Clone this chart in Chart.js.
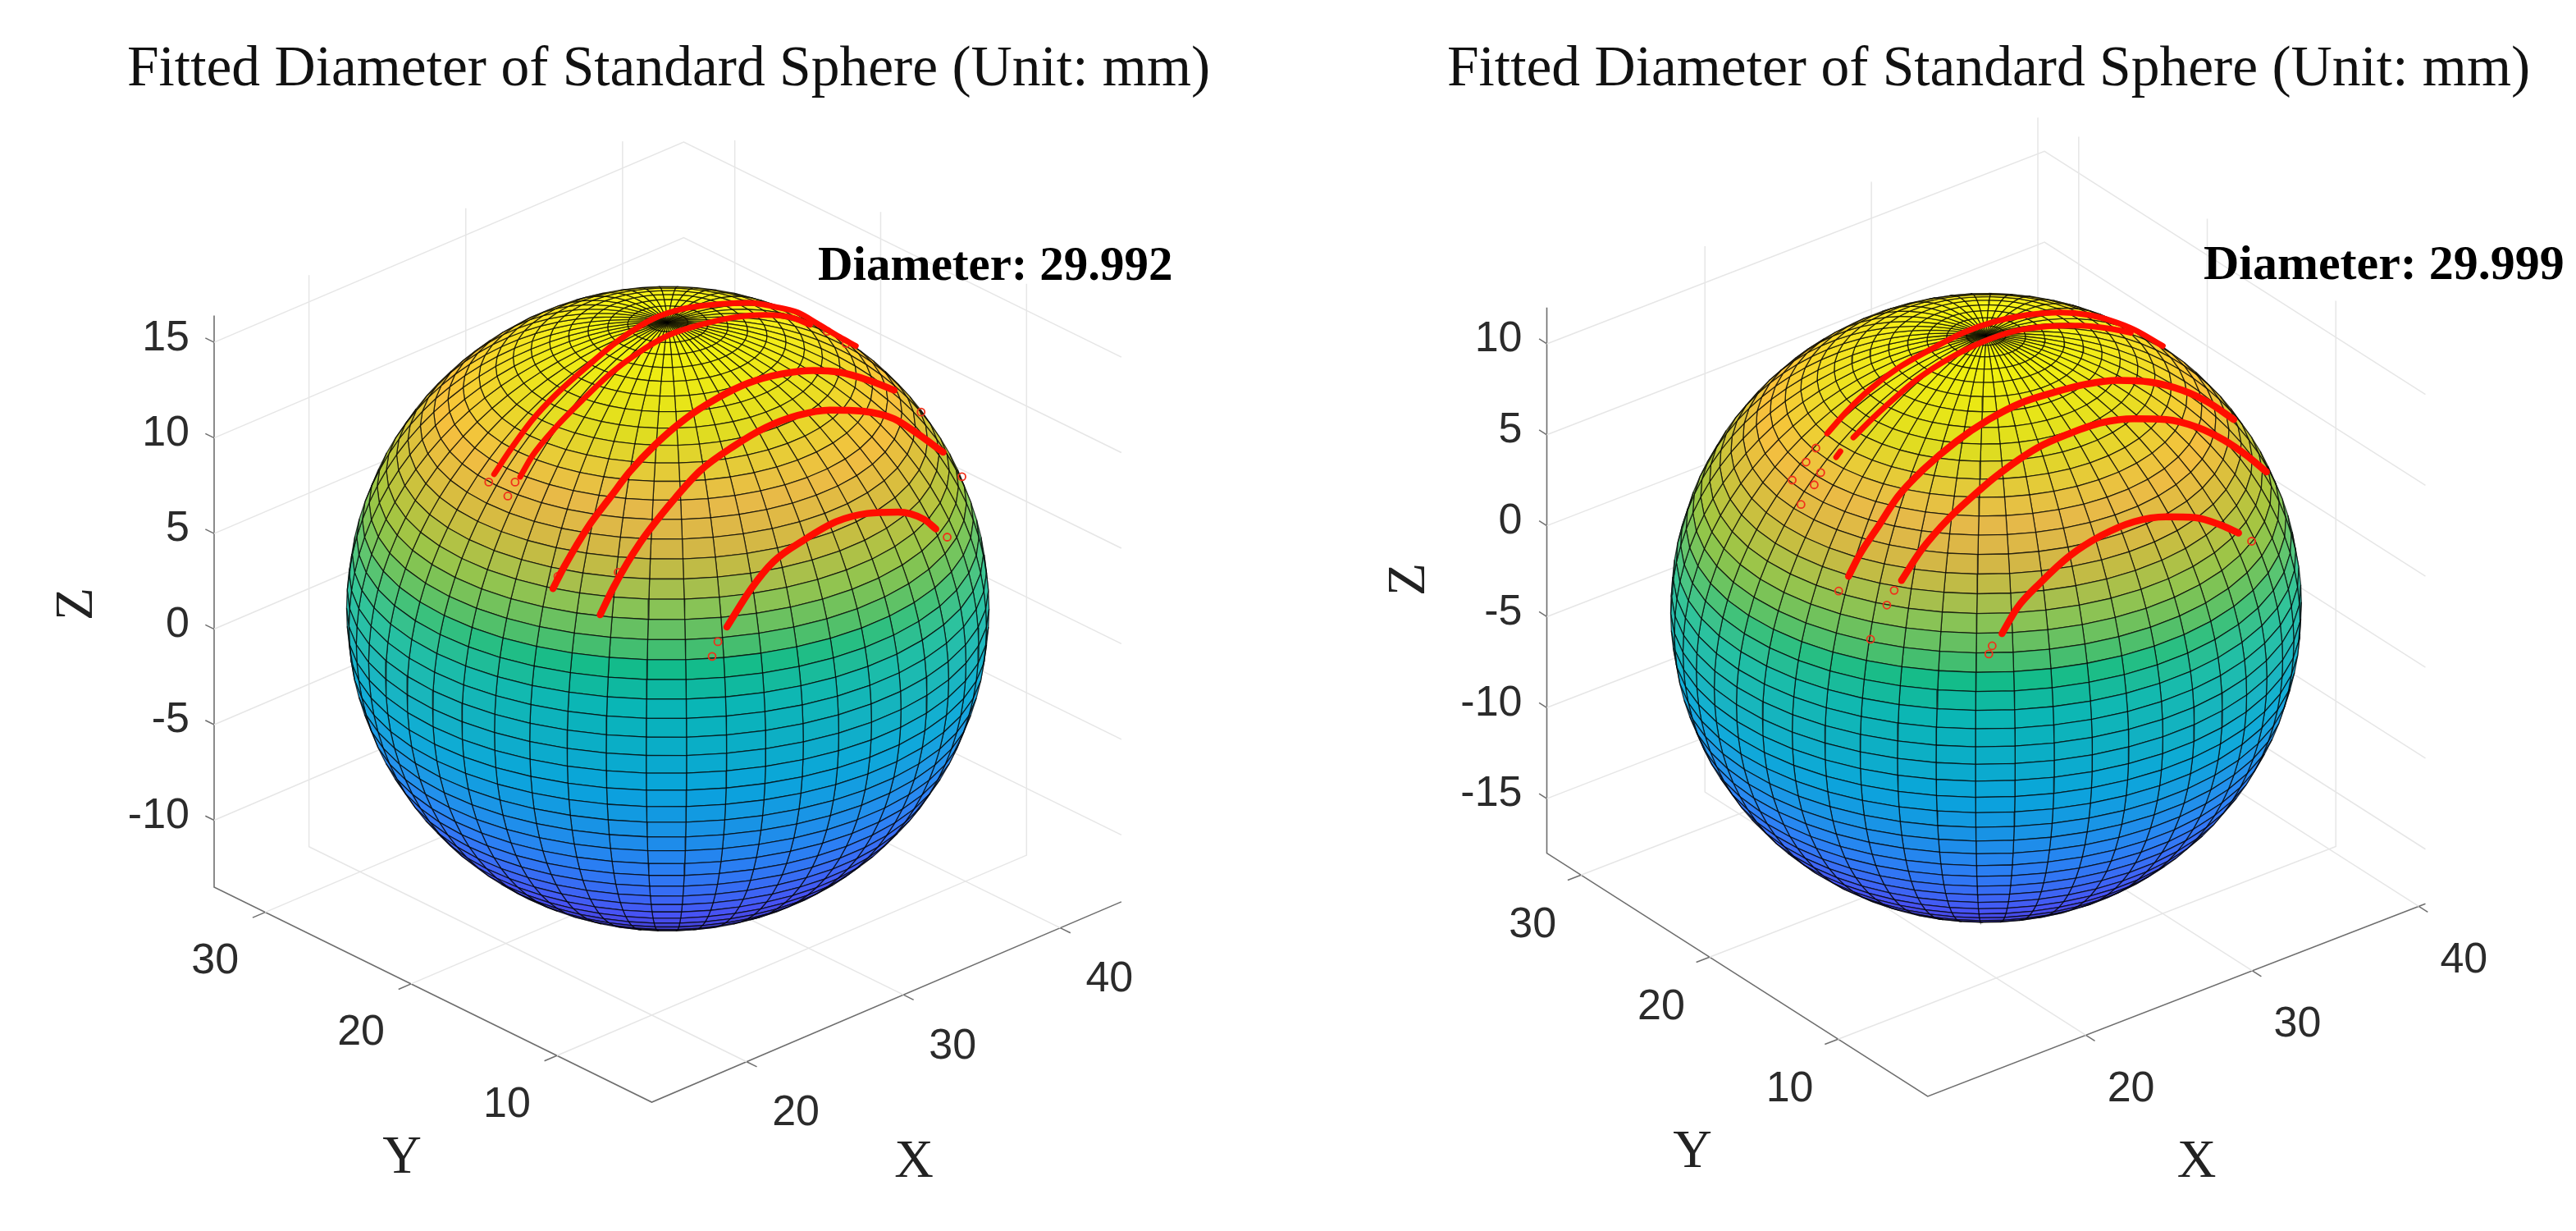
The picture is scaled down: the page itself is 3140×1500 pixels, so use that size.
<!DOCTYPE html>
<html>
<head>
<meta charset="utf-8">
<title>Fitted Diameter of Standard Sphere</title>
<script src="https://cdn.jsdelivr.net/npm/chart.js@4/dist/chart.umd.js"></script>
<style>
  html, body { margin: 0; background: #fff; overflow: hidden; }
  canvas { position: absolute; top: 0; }
  #left { left: 0; }
  #right { left: 1570px; }
</style>
</head>
<body>
<canvas id="left" width="1570" height="1500"></canvas>
<canvas id="right" width="1570" height="1500"></canvas>
<script>
var titleText = 'Fitted Diameter of Standard Sphere (Unit: mm)';
var serif = '"Liberation Serif", serif';
var sans = '"Liberation Sans", Arial, sans-serif';

// axis ticks
var leftXTicks = [20, 30, 40];
var leftYTicks = [10, 20, 30];
var leftZTicks = [-10, -5, 0, 5, 10, 15];
var rightXTicks = [20, 30, 40];
var rightYTicks = [10, 20, 30];
var rightZTicks = [-15, -10, -5, 0, 5, 10];

var leftLimits = { x: [13.95, 43.9], y: [3.5, 33.5], z: [-13.5, 16.4] };
var rightLimits = { x: [10.5, 40.4], y: [3.03, 32.66], z: [-18, 12] };
var leftCentre = [28.93, 18.5, 1.45];
var rightCentre = [25.45, 17.85, -3.13];
var sphereRadius = 15;

// measured scan arcs: h = mm along the screen from the Z axis, v = height read on the Z axis
var leftArcH = [
    [13.09, 13.85, 14.89, 15.95, 17.48, 18.97, 20.50, 21.98, 23.51, 25.00, 26.22, 27.29, 28.17, 29.24, 30.00],
    [14.31, 14.89, 15.95, 17.18, 18.51, 19.73, 21.22, 22.75, 24.27, 25.76, 26.98, 27.86],
    [15.84, 16.37, 17.52, 18.55, 19.43, 20.65, 21.98, 23.51, 25.00, 26.53, 28.02, 29.24, 30.61, 31.79],
    [18.05, 18.70, 19.89, 21.49, 22.75, 24.27, 25.76, 27.29, 28.78, 30.31, 31.79, 32.86, 34.08],
    [23.97, 25.11, 26.15, 27.60, 29.08, 30.53, 31.98, 33.17, 33.74]
];
var leftArcV = [
    [8.10, 9.38, 10.96, 12.24, 13.78, 15.15, 16.22, 16.77, 16.99, 17.07, 16.86, 16.56, 16.00, 15.28, 14.81],
    [7.97, 9.08, 10.53, 11.94, 13.35, 14.38, 15.36, 15.92, 16.30, 16.43, 16.30, 15.92],
    [2.12, 3.27, 5.41, 6.94, 8.23, 9.68, 10.96, 12.07, 12.88, 13.35, 13.53, 13.44, 13.01, 12.50],
    [0.75, 2.24, 4.47, 6.77, 8.31, 9.55, 10.53, 11.18, 11.46, 11.40, 11.00, 10.24, 9.25],
    [0.11, 2.12, 3.53, 4.68, 5.62, 6.05, 6.12, 5.75, 5.24]
];
var leftStrayH = [12.84, 13.73, 14.07, 33.05, 34.27, 23.28, 23.55, 16.07, 18.89, 28.66, 29.54, 34.96];
var leftStrayV = [7.69, 6.96, 7.69, 11.35, 4.81, -1.43, -0.66, 2.76, 2.97, 15.58, 14.94, 7.97];

var rightArcH = [
    [13.39, 14.33, 15.38, 16.78, 18.34, 19.86, 21.42, 22.94, 24.50, 25.87, 26.96, 28.05, 29.42],
    [14.64, 15.54, 16.47, 17.72, 19.24, 20.80, 22.32, 23.88, 25.40, 26.96, 27.89],
    [13.82, 14.02],
    [14.41, 14.95, 15.85, 16.78, 18.03, 19.55, 21.11, 22.63, 24.19, 25.71, 27.27, 28.79, 30.35, 31.60, 32.81],
    [16.94, 17.88, 19.24, 20.64, 21.42, 23.41, 24.97, 26.49, 28.05, 29.57, 31.13, 32.34, 33.43, 34.37],
    [21.74, 22.48, 23.57, 24.97, 26.49, 28.05, 29.57, 30.97, 32.18, 33.04]
];
var rightArcV = [
    [5.07, 6.29, 7.45, 8.67, 9.70, 10.60, 11.23, 11.59, 11.72, 11.59, 11.27, 10.78, 9.88],
    [4.85, 5.88, 6.87, 8.08, 9.21, 10.10, 10.69, 10.96, 11.00, 10.82, 10.60],
    [3.77, 4.09],
    [-2.78, -1.57, 0.00, 1.62, 3.14, 4.63, 5.84, 6.74, 7.32, 7.77, 7.99, 7.90, 7.45, 6.78, 5.84],
    [-3.01, -1.35, 0.45, 1.93, 2.69, 4.27, 5.07, 5.66, 5.88, 5.84, 5.39, 4.71, 3.86, 2.96],
    [-5.93, -4.49, -3.14, -1.66, -0.54, 0.22, 0.49, 0.45, 0.04, -0.40]
];
var rightStrayH = [12.85, 12.38, 11.72, 13.08, 12.77, 12.14, 16.24, 16.59, 33.66, 21.11, 21.27, 13.94, 15.46];
var rightStrayV = [4.27, 3.50, 2.51, 2.92, 2.25, 1.17, -4.36, -3.55, -0.85, -7.05, -6.60, -3.59, -6.24];

// parula, which the surface shows at its edge
var parulaAt = [0, 1 / 7, 2 / 7, 3 / 7, 4 / 7, 5 / 7, 6 / 7, 1];
var parula = [
    [62, 38, 168], [72, 82, 244], [46, 135, 247], [18, 177, 214],
    [55, 200, 151], [171, 199, 57], [254, 195, 56], [249, 251, 21]
];
// colours sampled down the front of the reference sphere, by relative height
var frontAt = [0, 0.08, 0.14, 0.237, 0.445, 0.578, 0.639, 0.672, 0.73, 0.778, 0.812, 0.861, 0.892, 0.933, 1];
var front = [
    [62, 38, 168], [72, 60, 230], [70, 82, 244], [40, 112, 240], [5, 160, 222],
    [5, 180, 185], [15, 187, 140], [70, 190, 110], [140, 195, 85], [190, 187, 70],
    [215, 182, 70], [230, 185, 75], [225, 200, 60], [215, 220, 30], [235, 235, 5]
];

function lookup(stops, cols, t) {
    t = Math.max(0, Math.min(1, t));
    var i = 0;
    while (i < stops.length - 2 && t > stops[i + 1]) i++;
    var f = (t - stops[i]) / (stops[i + 1] - stops[i]);
    return [0, 1, 2].map(function(k) {
        return cols[i][k] + (cols[i + 1][k] - cols[i][k]) * f;
    });
}

function surfaceColor(t, facing) {
    var edge = lookup(parulaAt, parula, t);
    var mid = lookup(frontAt, front, t);
    var w = Math.pow(Math.max(0, Math.min(1, facing)), 1.5);
    var c = [0, 1, 2].map(function(k) { return Math.round(edge[k] + (mid[k] - edge[k]) * w); });
    return 'rgb(' + c.join(',') + ')';
}

function makePanel(canvasId, p) {
    var lim = p.limits;

    // view: orthographic, coefficients taken from the tick spacing on each axis
    function project(X, Y, Z) {
        return {
            x: p.hPerX * (X - lim.x[0]) + p.hPerY * (lim.y[1] - Y),
            y: Z + p.vPerX * (X - lim.x[0]) + p.vPerY * (Y - lim.y[1])
        };
    }
    function line3d(pts, color, width) {
        return {
            data: pts.map(function(q) { return project(q[0], q[1], q[2]); }),
            showLine: true, borderColor: color, borderWidth: width, clip: false, pointRadius: 0
        };
    }

    var back = [];
    var x0 = lim.x[0], x1 = lim.x[1], y0 = lim.y[0], y1 = lim.y[1], z0 = lim.z[0], z1 = lim.z[1];
    var gridColor = '#e6e6e6', axisColor = '#6e6e6e';
    p.zTicks.forEach(function(z) {
        back.push(line3d([[x0, y1, z], [x1, y1, z], [x1, y0, z]], gridColor, 1.5));
        back.push(line3d([[x0, y1, z], [x0, y1 + 0.6, z]], axisColor, 1.5));
    });
    p.xTicks.forEach(function(x) {
        back.push(line3d([[x, y0, z0], [x, y1, z0], [x, y1, z1]], gridColor, 1.5));
        back.push(line3d([[x, y0, z0], [x, y0 - 0.7, z0]], axisColor, 1.5));
    });
    p.yTicks.forEach(function(y) {
        back.push(line3d([[x0, y, z0], [x1, y, z0], [x1, y, z1]], gridColor, 1.5));
        back.push(line3d([[x0, y, z0], [x0 - 0.8, y, z0]], axisColor, 1.5));
    });
    back.push(line3d([[x1, y0, z0], [x0, y0, z0], [x0, y1, z0], [x0, y1, z1]], axisColor, 1.6));

    // sphere: the surface follows from the centre and radius read above, 50 x 50 mesh as counted
    var right = [p.hPerX, -p.hPerY, 0];
    var up = [p.vPerX * p.zPx / p.scalePx, p.vPerY * p.zPx / p.scalePx, p.zPx / p.scalePx];
    var normal = [
        right[1] * up[2] - right[2] * up[1],
        right[2] * up[0] - right[0] * up[2],
        right[0] * up[1] - right[1] * up[0]
    ];
    var n = 50;
    function vertex(i, j) {
        var lat = -Math.PI / 2 + Math.PI * i / n;
        var lon = 2 * Math.PI * j / n;
        return [
            p.centre[0] + sphereRadius * Math.cos(lat) * Math.cos(lon),
            p.centre[1] + sphereRadius * Math.cos(lat) * Math.sin(lon),
            p.centre[2] + sphereRadius * Math.sin(lat)
        ];
    }
    var faces = [];
    for (var i = 0; i < n; i++) {
        for (var j = 0; j < n; j++) {
            var v = [vertex(i, j), vertex(i + 1, j), vertex(i + 1, j + 1), vertex(i, j + 1)];
            var mid = vertex(i + 0.5, j + 0.5);
            var facing = (mid[0] - p.centre[0]) * normal[0] + (mid[1] - p.centre[1]) * normal[1] + (mid[2] - p.centre[2]) * normal[2];
            if (facing < -0.4) continue;
            faces.push({
                data: v.concat([v[0]]).map(function(q) { return project(q[0], q[1], q[2]); }),
                showLine: true,
                fill: 'shape',
                backgroundColor: surfaceColor((mid[2] - p.centre[2] + sphereRadius) / (2 * sphereRadius), facing / sphereRadius),
                borderColor: 'rgba(0,0,0,0.72)',
                borderWidth: 1.3,
                pointRadius: 0
            });
        }
    }

    var arcs = p.arcH.map(function(hs, a) {
        return {
            data: hs.map(function(h, k) { return { x: h, y: p.arcV[a][k] }; }),
            showLine: true, borderColor: '#ff0d00', borderWidth: a < p.thinArcs ? 7 : 8.5, borderCapStyle: 'round',
            cubicInterpolationMode: 'monotone', clip: false, pointRadius: 0
        };
    });
    var stray = {
        data: p.strayH.map(function(h, k) { return { x: h, y: p.strayV[k] }; }),
        showLine: false, pointRadius: 4.5, pointBorderColor: '#f0301a', pointBorderWidth: 1.8,
        pointBackgroundColor: 'rgba(0,0,0,0)', clip: false
    };

    var axisText = {
        id: 'axisText',
        afterDraw: function(chart) {
            var ctx = chart.ctx, xs = chart.scales.x, ys = chart.scales.y;
            function at(q, dx, dy) {
                return [xs.getPixelForValue(q.x) + dx, ys.getPixelForValue(q.y) + dy];
            }
            ctx.save();
            ctx.textAlign = 'center';
            ctx.textBaseline = 'middle';
            ctx.fillStyle = '#2b2b2b';
            ctx.font = '52px ' + sans;
            p.xTicks.forEach(function(x) {
                var c = at(project(x, y0, z0), p.xLabelOff[0], p.xLabelOff[1]);
                ctx.fillText(String(x), c[0], c[1]);
            });
            p.yTicks.forEach(function(y) {
                var c = at(project(x0, y, z0), p.yLabelOff[0], p.yLabelOff[1]);
                ctx.fillText(String(y), c[0], c[1]);
            });
            ctx.fillStyle = '#222';
            ctx.font = '66px ' + serif;
            ctx.fillText('X', p.xName[0], p.xName[1]);
            ctx.fillText('Y', p.yName[0], p.yName[1]);
            ctx.save();
            ctx.translate(p.zName[0], p.zName[1]);
            ctx.rotate(-Math.PI / 2);
            ctx.fillText('Z', 0, 0);
            ctx.restore();
            ctx.fillStyle = '#000';
            ctx.font = 'bold ' + p.noteSize + 'px ' + serif;
            ctx.textAlign = 'left';
            ctx.fillText(p.note, p.notePos[0], p.notePos[1]);
            ctx.restore();
        }
    };

    var chartTop = 130, height = 1500, width = 1570;
    return new Chart(document.getElementById(canvasId), {
        type: 'scatter',
        data: { datasets: arcs.concat([stray], faces, back) },
        plugins: [axisText],
        options: {
            responsive: false,
            animation: false,
            events: [],
            parsing: false,
            normalized: true,
            layout: { padding: { left: p.padLeft, right: 0, top: 0, bottom: 0 } },
            plugins: {
                legend: { display: false },
                tooltip: { enabled: false },
                title: {
                    display: true,
                    text: titleText,
                    color: '#111',
                    font: { family: serif, size: 69.5, weight: 'normal', lineHeight: 1.2 },
                    padding: { top: 44, bottom: 2.6 }
                }
            },
            scales: {
                x: {
                    type: 'linear',
                    display: false,
                    min: 0,
                    max: (width - p.axisPx) / p.scalePx
                },
                y: {
                    type: 'linear',
                    min: (p.zeroPx - height) / p.zPx,
                    max: (p.zeroPx - chartTop) / p.zPx,
                    afterFit: function(s) {
                        s.width = p.axisPx - p.padLeft;
                        s.paddingTop = 0;
                        s.paddingBottom = 0;
                    },
                    afterBuildTicks: function(s) {
                        s.ticks = p.zTicks.map(function(v) { return { value: v }; });
                    },
                    border: { display: false },
                    grid: { display: false, drawTicks: false },
                    ticks: {
                        autoSkip: false,
                        maxRotation: 0,
                        padding: 30,
                        labelOffset: -5,
                        color: '#2b2b2b',
                        font: { family: sans, size: 52 },
                        callback: function(v) { return String(v); }
                    }
                }
            }
        }
    });
}

makePanel('left', {
    limits: leftLimits, centre: leftCentre,
    xTicks: leftXTicks, yTicks: leftYTicks, zTicks: leftZTicks,
    arcH: leftArcH, arcV: leftArcV, strayH: leftStrayH, strayV: leftStrayV, thinArcs: 2,
    hPerX: 0.733, hPerY: 0.682, vPerX: 0.35, vPerY: 0.375,
    scalePx: 26.2, zPx: 23.4, zeroPx: 769.5, axisPx: 261, padLeft: 60,
    xLabelOff: [60, 63], yLabelOff: [-61, 60],
    xName: [1114, 1417], yName: [490, 1412], zName: [95, 736],
    note: 'Diameter: 29.992', noteSize: 59, notePos: [997, 326]
});

makePanel('right', {
    limits: rightLimits, centre: rightCentre,
    xTicks: rightXTicks, yTicks: rightYTicks, zTicks: rightZTicks,
    arcH: rightArcH, arcV: rightArcV, strayH: rightStrayH, strayV: rightStrayV, thinArcs: 3,
    hPerX: 0.795, hPerY: 0.614, vPerX: 0.354, vPerY: 0.451,
    scalePx: 25.65, zPx: 22.27, zeroPx: 643, axisPx: 315.5, padLeft: 138,
    xLabelOff: [55, 66], yLabelOff: [-59, 61],
    xName: [1107.5, 1417], yName: [493, 1405], zName: [149, 706],
    note: 'Diameter: 29.999', noteSize: 60, notePos: [1116, 324]
});
</script>
</body>
</html>
